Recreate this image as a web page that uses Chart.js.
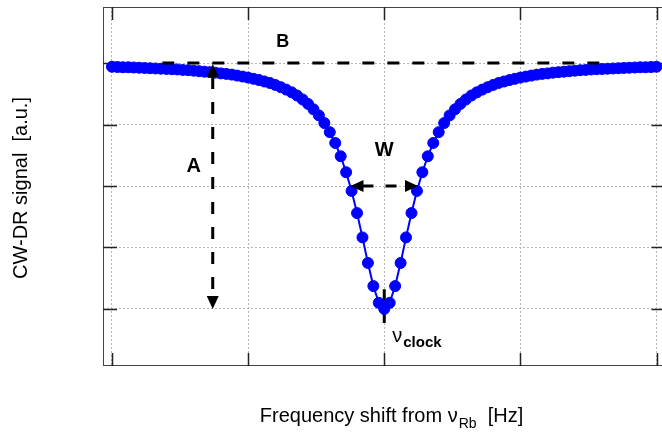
<!DOCTYPE html>
<html>
<head>
<meta charset="utf-8">
<script src="https://cdn.jsdelivr.net/npm/chart.js@4.4.1/dist/chart.umd.min.js"></script>
<style>
    html, body { margin: 0; padding: 0; background: #fff; overflow: hidden; }
    #wrap { width: 662px; height: 432px; overflow: hidden; }
</style>
</head>
<body>
<div id="wrap"><canvas id="dipChart" width="672" height="432"></canvas></div>
<script>
// frequency shift (arb. units, grid every 1) and CW-DR signal (baseline = 1, dip bottom = 0)
const freqShift = [
    -2.00, -1.96, -1.92, -1.88, -1.84, -1.80, -1.76, -1.72, -1.68, -1.64,
    -1.60, -1.56, -1.52, -1.48, -1.44, -1.40, -1.36, -1.32, -1.28, -1.24,
    -1.20, -1.16, -1.12, -1.08, -1.04, -1.00, -0.96, -0.92, -0.88, -0.84,
    -0.80, -0.76, -0.72, -0.68, -0.64, -0.60, -0.56, -0.52, -0.48, -0.44,
    -0.40, -0.36, -0.32, -0.28, -0.24, -0.20, -0.16, -0.12, -0.08, -0.04,
    0.00,
    0.04, 0.08, 0.12, 0.16, 0.20, 0.24, 0.28, 0.32, 0.36, 0.40,
    0.44, 0.48, 0.52, 0.56, 0.60, 0.64, 0.68, 0.72, 0.76, 0.80,
    0.84, 0.88, 0.92, 0.96, 1.00, 1.04, 1.08, 1.12, 1.16, 1.20,
    1.24, 1.28, 1.32, 1.36, 1.40, 1.44, 1.48, 1.52, 1.56, 1.60,
    1.64, 1.68, 1.72, 1.76, 1.80, 1.84, 1.88, 1.92, 1.96, 2.00
];
const signal = [
    0.985, 0.984, 0.983, 0.983, 0.982, 0.981, 0.980, 0.979, 0.978, 0.977,
    0.976, 0.975, 0.974, 0.972, 0.971, 0.969, 0.967, 0.965, 0.963, 0.961,
    0.958, 0.956, 0.953, 0.949, 0.945, 0.941, 0.936, 0.931, 0.925, 0.919,
    0.911, 0.902, 0.892, 0.881, 0.868, 0.852, 0.834, 0.812, 0.787, 0.756,
    0.719, 0.675, 0.621, 0.556, 0.480, 0.390, 0.291, 0.187, 0.093, 0.025,
    0.000,
    0.025, 0.093, 0.187, 0.291, 0.390, 0.480, 0.556, 0.621, 0.675, 0.719,
    0.756, 0.787, 0.812, 0.834, 0.852, 0.868, 0.881, 0.892, 0.902, 0.911,
    0.919, 0.925, 0.931, 0.936, 0.941, 0.945, 0.949, 0.953, 0.956, 0.958,
    0.961, 0.963, 0.965, 0.967, 0.969, 0.971, 0.972, 0.974, 0.975, 0.976,
    0.977, 0.978, 0.979, 0.980, 0.981, 0.982, 0.983, 0.983, 0.984, 0.985
];
const xTicks = [-2, -1, 0, 1, 2];
const yTicks = [0, 0.25, 0.5, 0.75, 1];

const xTitle = ['Frequency shift from ν', 'Rb', '  [Hz]'];
const yTitle = 'CW-DR signal  [a.u.]';

// annotation anchors in data units
const baseLevel = 1;        // B
const dipLevel = 0;         // bottom of the dip
const halfLevel = 0.5;      // W is measured here
const halfWidth = 0.248;
const aArrowX = -1.26;
const bLineFrom = -1.63, bLineTo = 1.63;

const FONT = 'Arial, "Liberation Sans", sans-serif';

function arrowHead(ctx, x, y, dir) {
    const len = 13, half = 6;
    ctx.beginPath();
    ctx.moveTo(x, y);
    if (dir === 'up') { ctx.lineTo(x - half, y + len); ctx.lineTo(x + half, y + len); }
    if (dir === 'down') { ctx.lineTo(x - half, y - len); ctx.lineTo(x + half, y - len); }
    if (dir === 'left') { ctx.lineTo(x + len, y - half); ctx.lineTo(x + len, y + half); }
    if (dir === 'right') { ctx.lineTo(x - len, y - half); ctx.lineTo(x - len, y + half); }
    ctx.closePath();
    ctx.fill();
}

const decorations = {
    id: 'decorations',
    beforeDatasetsDraw(chart) {
        const { ctx, chartArea: a, scales: { x, y } } = chart;
        ctx.save();
        // frame
        ctx.strokeStyle = '#444';
        ctx.lineWidth = 1;
        ctx.strokeRect(a.left + 0.5, a.top + 0.5, a.right - a.left - 1, a.bottom - a.top - 1);
        // inward ticks
        ctx.strokeStyle = '#222';
        ctx.lineWidth = 1.5;
        ctx.beginPath();
        xTicks.forEach(v => {
            const px = Math.round(x.getPixelForValue(v)) + 0.5;
            ctx.moveTo(px, a.bottom); ctx.lineTo(px, a.bottom - 13);
            ctx.moveTo(px, a.top); ctx.lineTo(px, a.top + 13);
        });
        yTicks.forEach(v => {
            const py = Math.round(y.getPixelForValue(v)) + 0.5;
            ctx.moveTo(a.left, py); ctx.lineTo(a.left + 14, py);
            ctx.moveTo(a.right, py); ctx.lineTo(a.right - 14, py);
        });
        ctx.stroke();
        // short marker under the dip centre (nu_clock)
        ctx.strokeStyle = '#000';
        ctx.lineWidth = 3;
        ctx.beginPath();
        const cx = x.getPixelForValue(0);
        ctx.moveTo(cx, y.getPixelForValue(dipLevel + 0.08));
        ctx.lineTo(cx, y.getPixelForValue(dipLevel - 0.057));
        ctx.stroke();
        ctx.restore();
    },
    afterDatasetsDraw(chart) {
        const { ctx, scales: { x, y } } = chart;
        ctx.save();
        ctx.strokeStyle = '#000';
        ctx.fillStyle = '#000';
        ctx.lineWidth = 3;

        // B: baseline
        const yb = y.getPixelForValue(baseLevel);
        ctx.setLineDash([12, 13]);
        ctx.beginPath();
        ctx.moveTo(x.getPixelForValue(bLineFrom), yb);
        ctx.lineTo(x.getPixelForValue(bLineTo), yb);
        ctx.stroke();

        // A: depth arrow
        const xa = x.getPixelForValue(aArrowX);
        const yTop = y.getPixelForValue(baseLevel) + 1;
        const yBot = y.getPixelForValue(dipLevel);
        ctx.beginPath();
        ctx.moveTo(xa, yTop + 13);
        ctx.lineTo(xa, yBot - 13);
        ctx.stroke();

        // W: width arrows
        const yw = y.getPixelForValue(halfLevel);
        const xl = x.getPixelForValue(-halfWidth);
        const xr = x.getPixelForValue(halfWidth);
        ctx.setLineDash([11, 12]);
        ctx.beginPath();
        ctx.moveTo(xl + 12, yw);
        ctx.lineTo(xr - 12, yw);
        ctx.stroke();
        ctx.setLineDash([]);
        arrowHead(ctx, xa, yTop, 'up');
        arrowHead(ctx, xa, yBot, 'down');
        arrowHead(ctx, xl, yw, 'left');
        arrowHead(ctx, xr, yw, 'right');

        // letters
        ctx.textAlign = 'center';
        ctx.textBaseline = 'alphabetic';
        ctx.font = 'bold 18px ' + FONT;
        ctx.fillText('B', x.getPixelForValue(-0.745), y.getPixelForValue(1.065));
        ctx.font = 'bold 20px ' + FONT;
        ctx.fillText('A', x.getPixelForValue(-1.40), y.getPixelForValue(0.557));
        ctx.fillText('W', x.getPixelForValue(0), y.getPixelForValue(0.622));

        // nu_clock
        const cx = x.getPixelForValue(0);
        ctx.textAlign = 'left';
        ctx.font = '20px ' + FONT;
        ctx.fillText('ν', cx + 8, y.getPixelForValue(-0.134));
        ctx.font = 'bold 15px ' + FONT;
        ctx.fillText('clock', cx + 19, y.getPixelForValue(-0.154));
        ctx.restore();
    },
    afterDraw(chart) {
        const { ctx } = chart;
        ctx.save();
        ctx.fillStyle = '#000';
        ctx.textBaseline = 'alphabetic';

        // x title with subscript
        ctx.font = '20px ' + FONT;
        const w1 = ctx.measureText(xTitle[0]).width;
        const w3 = ctx.measureText(xTitle[2]).width;
        ctx.font = '14px ' + FONT;
        const w2 = ctx.measureText(xTitle[1]).width + 1;
        let sx = 391.5 - (w1 + w2 + w3) / 2;
        ctx.textAlign = 'left';
        ctx.font = '20px ' + FONT;
        ctx.fillText(xTitle[0], sx, 422);
        ctx.font = '14px ' + FONT;
        ctx.fillText(xTitle[1], sx + w1 + 1, 428);
        ctx.font = '20px ' + FONT;
        ctx.fillText(xTitle[2], sx + w1 + w2, 422);

        // y title
        ctx.translate(27, 188);
        ctx.rotate(-Math.PI / 2);
        ctx.textAlign = 'center';
        ctx.fillText(yTitle, 0, 0);
        ctx.restore();
    }
};

const fixedTicks = values => scale => { scale.ticks = values.map(v => ({ value: v })); };

new Chart(document.getElementById('dipChart'), {
    type: 'line',
    data: {
        labels: freqShift,
        datasets: [{
            data: freqShift.map((f, i) => ({ x: f, y: signal[i] })),
            borderColor: '#0000ff',
            backgroundColor: '#0000ff',
            borderWidth: 2,
            pointRadius: 5.5,
            pointBorderWidth: 1,
            pointBackgroundColor: '#0000ff',
            pointBorderColor: '#0000ff',
            tension: 0
        }]
    },
    options: {
        responsive: false,
        animation: false,
        devicePixelRatio: 1,
        layout: { padding: { left: 103, top: 7, right: 2, bottom: 66 } },
        plugins: { legend: { display: false }, tooltip: { enabled: false } },
        scales: {
            x: {
                type: 'linear',
                min: -2.066, max: 2.066,
                afterBuildTicks: fixedTicks(xTicks),
                ticks: { display: false },
                grid: { color: '#b4b4b4', lineWidth: 1, drawTicks: false },
                border: { display: false, dash: [2, 2] }
            },
            y: {
                min: -0.232, max: 1.228,
                afterBuildTicks: fixedTicks(yTicks),
                ticks: { display: false },
                grid: { color: '#b4b4b4', lineWidth: 1, drawTicks: false },
                border: { display: false, dash: [2, 2] }
            }
        }
    },
    plugins: [decorations]
});
</script>
</body>
</html>
